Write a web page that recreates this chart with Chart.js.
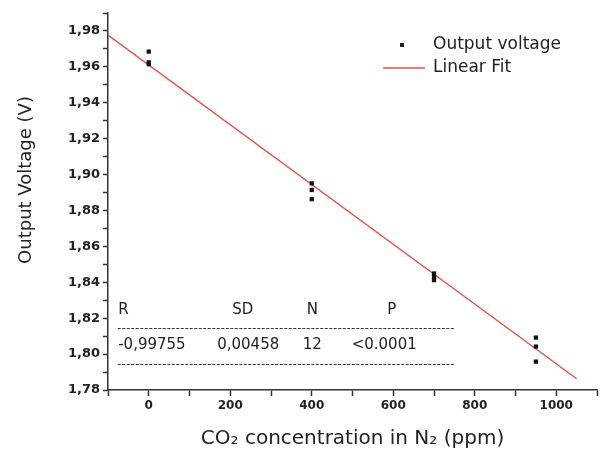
<!DOCTYPE html>
<html>
<head>
<meta charset="utf-8">
<script src="https://cdn.jsdelivr.net/npm/chart.js@4"></script>
<style>
  html, body { margin: 0; padding: 0; background: #fff; }
  #wrap { width: 601px; height: 455px; }
</style>
</head>
<body>
<div id="wrap"><canvas id="myChart" width="601" height="455"></canvas></div>
<script>
// data
let concX = [0, 0, 0, 400, 400, 400, 700, 700, 700, 950, 950, 950];          // ppm
let voltY = [1.9685, 1.9625, 1.9615, 1.8951, 1.8914, 1.8863,
             1.8449, 1.8430, 1.8412, 1.8092, 1.8042, 1.7958];                // V
let fitX = [-100, 1050];
let fitY = [1.9777, 1.7863];

// stats table
let tableHead = ["R", "SD", "N", "P"];
let tableVals = ["-0,99755", "0,00458", "12", "<0.0001"];

let FONT = "'DejaVu Sans', 'Liberation Sans', Arial, sans-serif";
let INK = "#222";
let RED = "#e0524c";

let pts = concX.map(function(x, i){ return {x: x, y: voltY[i]}; });
let fit = fitX.map(function(x, i){ return {x: x, y: fitY[i]}; });

// extra drawing : y title, legend, stats table
let extras = {
  id: "extras",
  afterDatasetsDraw: function(chart){
    let ctx = chart.ctx;
    let xs = chart.scales.x, ys = chart.scales.y;
    ctx.save();
    ctx.fillStyle = INK;

    // y title
    ctx.save();
    ctx.translate(26, 180);
    ctx.rotate(-Math.PI / 2);
    ctx.font = "18px " + FONT;
    ctx.textAlign = "center";
    ctx.textBaseline = "middle";
    ctx.fillText("Output Voltage (V)", 0, 0);
    ctx.restore();

    // legend
    ctx.font = "17px " + FONT;
    ctx.textBaseline = "middle";
    ctx.textAlign = "left";
    ctx.fillRect(400, 43, 4, 4);
    ctx.fillText("Output voltage", 433, 45);
    ctx.strokeStyle = RED;
    ctx.lineWidth = 1.5;
    ctx.beginPath();
    ctx.moveTo(383, 68); ctx.lineTo(425, 68);
    ctx.stroke();
    ctx.fillText("Linear Fit", 433, 68);

    // table (placed in data units)
    ctx.font = "15px " + FONT;
    let headX = [-75, 205, 388, 585];
    let valX = [-75, 168, 378, 498];
    tableHead.forEach(function(t, i){
      ctx.fillText(t, xs.getPixelForValue(headX[i]), ys.getPixelForValue(1.8243));
    });
    tableVals.forEach(function(t, i){
      ctx.fillText(t, xs.getPixelForValue(valX[i]), ys.getPixelForValue(1.8048));
    });
    ctx.strokeStyle = "#333";
    ctx.lineWidth = 1;
    ctx.setLineDash([3, 1.5]);
    [1.8143, 1.7947].forEach(function(v){
      let py = Math.round(ys.getPixelForValue(v)) + 0.5;
      ctx.beginPath();
      ctx.moveTo(xs.getPixelForValue(-76), py);
      ctx.lineTo(xs.getPixelForValue(749), py);
      ctx.stroke();
    });
    ctx.restore();
  }
};

new Chart(document.getElementById("myChart"), {
  type: "scatter",
  data: {
    datasets: [
      {
        label: "Output voltage",
        data: pts,
        pointStyle: "rect",
        pointRadius: 3,
        backgroundColor: "#111",
        borderWidth: 0
      },
      {
        label: "Linear Fit",
        type: "line",
        data: fit,
        borderColor: RED,
        borderWidth: 1.4,
        pointRadius: 0,
        fill: false
      }
    ]
  },
  options: {
    responsive: false,
    animation: false,
    layout: { padding: { top: 13, right: 2, left: 0, bottom: 0 } },
    plugins: { legend: { display: false }, tooltip: { enabled: false } },
    scales: {
      x: {
        type: "linear",
        min: -100, max: 1100,
        afterFit: function(s){ s.height = 65; },
        border: { color: "#333", width: 1.5 },
        grid: { drawOnChartArea: false, tickLength: 6, tickColor: "#333", tickWidth: 1.5 },
        ticks: {
          stepSize: 100, maxRotation: 0, autoSkip: false, padding: 3,
          color: INK, font: { family: FONT, size: 12, weight: "bold" },
          callback: function(v){ return (v % 200 === 0 && v >= 0 && v <= 1000) ? String(v) : ""; }
        },
        title: {
          display: true,
          text: "CO\u2082 concentration in N\u2082 (ppm)",
          color: INK,
          font: { family: FONT, size: 20 },
          padding: { top: 0, bottom: 4 }
        }
      },
      y: {
        min: 1.78, max: 1.99,
        afterFit: function(s){ s.width = 108; },
        border: { color: "#333", width: 1.5 },
        grid: { drawOnChartArea: false, tickLength: 5, tickColor: "#333", tickWidth: 1.5 },
        ticks: {
          stepSize: 0.01, autoSkip: false, padding: 3,
          color: INK, font: { family: FONT, size: 13, weight: "bold" },
          callback: function(v){
            let k = Math.round(v * 100);
            return (k % 2 === 0) ? (k / 100).toFixed(2).replace(".", ",") : "";
          }
        }
      }
    }
  },
  plugins: [extras]
});
</script>
</body>
</html>
